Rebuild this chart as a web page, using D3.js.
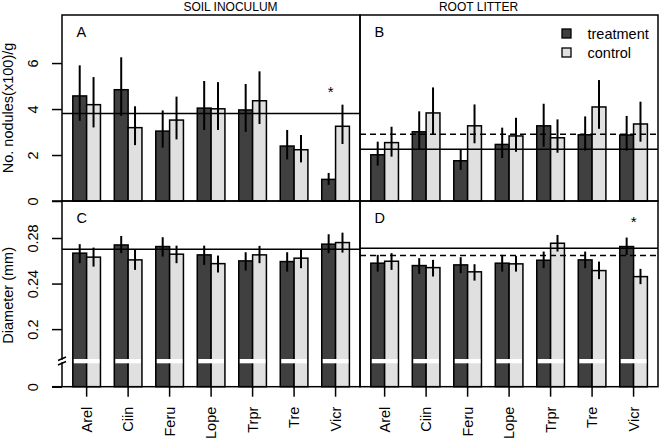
<!DOCTYPE html>
<html>
<head>
<meta charset="utf-8">
<script src="https://cdn.jsdelivr.net/npm/d3@7"></script>
<style>
  html, body { margin: 0; padding: 0; background: #fff; }
  svg text { font-family: "Liberation Sans", Arial, Helvetica, sans-serif; fill: #000; }
</style>
</head>
<body>
<svg id="chart" width="660" height="439"></svg>
<script>
// ---------------- DATA ----------------
const species = ["Arel", "Ciin", "Feru", "Lope", "Trpr", "Tre", "Vicr"];
const seriesNames = ["treatment", "control"];
const panelTitles = ["SOIL INOCULUM", "ROOT LITTER"];
const panelLetters = ["A", "B", "C", "D"];
const nodTicks = [0, 2, 4, 6];
const diamTicks = [0, 0.2, 0.24, 0.28];
const nodLabel = "No. nodules(x100)/g";
const diamLabel = "Diameter (mm)";

// A: soil inoculum, nodules
const soilNodTrt   = [4.57, 4.84, 3.04, 4.04, 3.96, 2.39, 0.94];
const soilNodTrtLo = [3.49, 3.70, 2.32, 3.09, 3.01, 1.81, 0.70];
const soilNodTrtHi = [5.90, 6.25, 3.94, 5.22, 5.09, 3.09, 1.22];
const soilNodCtl   = [4.19, 3.19, 3.52, 4.01, 4.36, 2.23, 3.25];
const soilNodCtlLo = [3.20, 2.43, 2.68, 3.09, 3.35, 1.68, 2.48];
const soilNodCtlHi = [5.39, 4.12, 4.54, 5.17, 5.64, 2.87, 4.19];
const soilNodMean = 3.81;

// B: root litter, nodules
const litNodTrt   = [2.01, 3.01, 1.75, 2.46, 3.27, 2.88, 2.87];
const litNodTrtLo = [1.54, 2.26, 1.35, 1.87, 2.36, 2.19, 2.19];
const litNodTrtHi = [2.58, 3.90, 2.25, 3.19, 4.23, 3.68, 3.70];
const litNodCtl   = [2.54, 3.83, 3.27, 2.83, 2.75, 4.09, 3.35];
const litNodCtlLo = [1.93, 2.91, 2.51, 2.14, 2.10, 3.14, 2.58];
const litNodCtlHi = [3.23, 4.94, 4.20, 3.62, 3.55, 5.26, 4.32];
const litNodMean = 2.25;
const litNodMeanDashed = 2.90;

// C: soil inoculum, diameter
const soilDiaTrt   = [0.2667, 0.2739, 0.2725, 0.2652, 0.2599, 0.2593, 0.2746];
const soilDiaTrtLo = [0.2579, 0.2667, 0.2637, 0.2564, 0.2514, 0.2505, 0.2667];
const soilDiaTrtHi = [0.2746, 0.2818, 0.2807, 0.2733, 0.2675, 0.2675, 0.2833];
const soilDiaCtl   = [0.2632, 0.2608, 0.2658, 0.2575, 0.2652, 0.2623, 0.2760];
const soilDiaCtlLo = [0.2549, 0.2520, 0.2579, 0.2497, 0.2579, 0.2535, 0.2672];
const soilDiaCtlHi = [0.2716, 0.2696, 0.2733, 0.2646, 0.2731, 0.2696, 0.2847];
const soilDiaMean = 0.2702;

// D: root litter, diameter
const litDiaTrt   = [0.2579, 0.2558, 0.2564, 0.2579, 0.2605, 0.2608, 0.2725];
const litDiaTrtLo = [0.2505, 0.2485, 0.2491, 0.2505, 0.2535, 0.2535, 0.2652];
const litDiaTrtHi = [0.2652, 0.2623, 0.2632, 0.2652, 0.2681, 0.2681, 0.2804];
const litDiaCtl   = [0.2596, 0.2540, 0.2503, 0.2573, 0.2754, 0.2514, 0.2461];
const litDiaCtlLo = [0.2520, 0.2462, 0.2426, 0.2505, 0.2681, 0.2439, 0.2395];
const litDiaCtlHi = [0.2667, 0.2608, 0.2570, 0.2643, 0.2827, 0.2593, 0.2529];
const litDiaMean = 0.2711;
const litDiaMeanDashed = 0.2646;

// significance stars: [panel index, species, y value]
const starPanels  = [0, 3];
const starSpecies = ["Vicr", "Vicr"];
const starValues  = [4.9, 0.2967];

// ---------------- LAYOUT ----------------
const svg = d3.select("#chart");
const colTrt = "#404040", colCtl = "#e0e0e0";
const colX = [62, 360, 658];
const rowY = [15, 201, 386.7];
const barInset = 10.8, barSpan = 276.6;

const yNod = d3.scaleLinear().domain([0, 8.09]).range([rowY[1], rowY[0]]);
const breakVal = 0.172;
const yDia = d3.scaleLinear().domain([0, breakVal, 0.3125]).range([rowY[2], 361, rowY[1]]);

const panels = [
  {col: 0, row: 0, y: yNod, trt: soilNodTrt, trtLo: soilNodTrtLo, trtHi: soilNodTrtHi,
   ctl: soilNodCtl, ctlLo: soilNodCtlLo, ctlHi: soilNodCtlHi, solid: soilNodMean, dashed: null},
  {col: 1, row: 0, y: yNod, trt: litNodTrt, trtLo: litNodTrtLo, trtHi: litNodTrtHi,
   ctl: litNodCtl, ctlLo: litNodCtlLo, ctlHi: litNodCtlHi, solid: litNodMean, dashed: litNodMeanDashed},
  {col: 0, row: 1, y: yDia, trt: soilDiaTrt, trtLo: soilDiaTrtLo, trtHi: soilDiaTrtHi,
   ctl: soilDiaCtl, ctlLo: soilDiaCtlLo, ctlHi: soilDiaCtlHi, solid: soilDiaMean, dashed: null},
  {col: 1, row: 1, y: yDia, trt: litDiaTrt, trtLo: litDiaTrtLo, trtHi: litDiaTrtHi,
   ctl: litDiaCtl, ctlLo: litDiaCtlLo, ctlHi: litDiaCtlHi, solid: litDiaMean, dashed: litDiaMeanDashed}
];

const xScales = [0, 1].map(c => d3.scaleBand().domain(species)
  .range([colX[c] + barInset, colX[c] + barInset + barSpan])
  .paddingInner(1 / 3).paddingOuter(0));

panels.forEach((p, i) => {
  const x = xScales[p.col];
  const bw = x.bandwidth() / 2;
  const x0 = colX[p.col], x1 = colX[p.col + 1];
  const g = svg.append("g");
  const base = p.y(0);
  const rows = species.map((s, k) => ({s, k}));

  // bars
  [["trt", 0, colTrt], ["ctl", 1, colCtl]].forEach(([key, off, col]) => {
    g.selectAll(null).data(rows).enter().append("rect")
      .attr("x", d => x(d.s) + off * bw)
      .attr("y", d => p.y(p[key][d.k]))
      .attr("width", bw)
      .attr("height", d => base - p.y(p[key][d.k]))
      .attr("fill", col).attr("stroke", "#000").attr("stroke-width", 1.5);
  });

  // axis-break band on diameter panels
  if (p.row === 1) {
    g.selectAll(null).data(rows).enter().append("rect")
      .attr("x", d => x(d.s) + 1)
      .attr("y", p.y(breakVal) - 2)
      .attr("width", 2 * bw - 2)
      .attr("height", 4.3)
      .attr("fill", "#fff");
  }

  // error bars
  [["trt", 0], ["ctl", 1]].forEach(([key, off]) => {
    g.selectAll(null).data(rows).enter().append("line")
      .attr("x1", d => x(d.s) + off * bw + bw / 2)
      .attr("x2", d => x(d.s) + off * bw + bw / 2)
      .attr("y1", d => p.y(p[key + "Lo"][d.k]))
      .attr("y2", d => p.y(p[key + "Hi"][d.k]))
      .attr("stroke", "#000").attr("stroke-width", 2);
  });

  // reference lines
  g.append("line").attr("x1", x0).attr("x2", x1)
    .attr("y1", p.y(p.solid)).attr("y2", p.y(p.solid))
    .attr("stroke", "#000").attr("stroke-width", 1.5);
  if (p.dashed !== null) {
    g.append("line").attr("x1", x0).attr("x2", x1)
      .attr("y1", p.y(p.dashed)).attr("y2", p.y(p.dashed))
      .attr("stroke", "#000").attr("stroke-width", 1.5).attr("stroke-dasharray", "6,4");
  }

  // panel frame
  g.append("rect").attr("x", x0).attr("y", rowY[p.row])
    .attr("width", x1 - x0).attr("height", rowY[p.row + 1] - rowY[p.row])
    .attr("fill", "none").attr("stroke", "#000").attr("stroke-width", 1.5);

  // panel letter
  g.append("text").attr("x", x0 + 14.5).attr("y", rowY[p.row] + 22)
    .attr("font-size", 14.5).text(panelLetters[i]);
});

// stars
starPanels.forEach((pi, j) => {
  const p = panels[pi];
  const x = xScales[p.col];
  const off = pi === 0 ? -4.8 : 0;
  svg.append("text")
    .attr("x", x(starSpecies[j]) + x.bandwidth() / 2 + off)
    .attr("y", p.y(starValues[j]) + 8.5)
    .attr("text-anchor", "middle").attr("font-size", 15)
    .text("*");
});

// y axes
function yAxis(scale, ticks, fmt) {
  const g = svg.append("g").attr("transform", `translate(${colX[0]},0)`)
    .call(d3.axisLeft(scale).tickValues(ticks).tickSize(10).tickSizeOuter(0).tickFormat(fmt));
  g.select(".domain").remove();
  g.selectAll(".tick line").attr("stroke", "#000").attr("stroke-width", 1.5);
  g.selectAll(".tick text")
    .attr("x", null).attr("dy", null)
    .attr("transform", "translate(-24.5,0) rotate(-90)")
    .attr("text-anchor", "middle")
    .attr("font-size", 14.5)
    .attr("font-family", "Liberation Sans, Arial, sans-serif")
    .attr("fill", "#000");
  return g;
}
yAxis(yNod, nodTicks, d3.format("d"));
yAxis(yDia, diamTicks, d => d === 0 ? "0" : String(d));

// axis extension lines at baselines (left of panels)
[rowY[1], rowY[2]].forEach(yy => {
  svg.append("line").attr("x1", 52).attr("x2", colX[0])
    .attr("y1", yy).attr("y2", yy).attr("stroke", "#000").attr("stroke-width", 1.5);
});

// axis break mark "//"
const by = yDia(breakVal);
svg.append("rect").attr("x", colX[0] - 2).attr("y", by - 1.2).attr("width", 4).attr("height", 2.4).attr("fill", "#fff");
svg.append("path")
  .attr("d", `M${colX[0] - 4},${by - 0.5} L${colX[0] + 4},${by - 4} M${colX[0] - 4},${by + 4} L${colX[0] + 4},${by + 0.5}`)
  .attr("stroke", "#000").attr("stroke-width", 1.4).attr("fill", "none");

// y axis titles
svg.append("text").attr("transform", `translate(12.5,${(rowY[0] + rowY[1]) / 2}) rotate(-90)`)
  .attr("text-anchor", "middle").attr("font-size", 14.5).text(nodLabel);
svg.append("text").attr("transform", `translate(12.5,${(rowY[1] + rowY[2]) / 2 + 1.5}) rotate(-90)`)
  .attr("text-anchor", "middle").attr("font-size", 14.5).text(diamLabel);

// x axes
[0, 1].forEach(c => {
  const x = xScales[c];
  const g = svg.append("g").attr("transform", `translate(0,${rowY[2]})`)
    .call(d3.axisBottom(x).tickSize(10).tickSizeOuter(0));
  g.select(".domain").remove();
  g.selectAll(".tick line").attr("stroke", "#000").attr("stroke-width", 1.5);
  g.selectAll(".tick text")
    .attr("y", null).attr("dy", null)
    .attr("transform", "translate(5,20) rotate(-90)")
    .attr("text-anchor", "end")
    .attr("font-size", 14.5)
    .attr("font-family", "Liberation Sans, Arial, sans-serif")
    .attr("fill", "#000");
});

// column titles
svg.append("text").attr("x", 230.5).attr("y", 11).attr("text-anchor", "middle")
  .attr("font-size", 12).text(panelTitles[0]);
svg.append("text").attr("x", 478.5).attr("y", 11).attr("text-anchor", "middle")
  .attr("font-size", 12).text(panelTitles[1]);

// legend
const leg = svg.append("g");
[[colTrt, 29], [colCtl, 48]].forEach(([col, yy], i) => {
  leg.append("rect").attr("x", 562).attr("y", yy).attr("width", 9).attr("height", 9)
    .attr("fill", col).attr("stroke", "#000").attr("stroke-width", 1.3);
  leg.append("text").attr("x", 587.5).attr("y", yy + 9.5).attr("font-size", 14.5).text(seriesNames[i]);
});
</script>
</body>
</html>
